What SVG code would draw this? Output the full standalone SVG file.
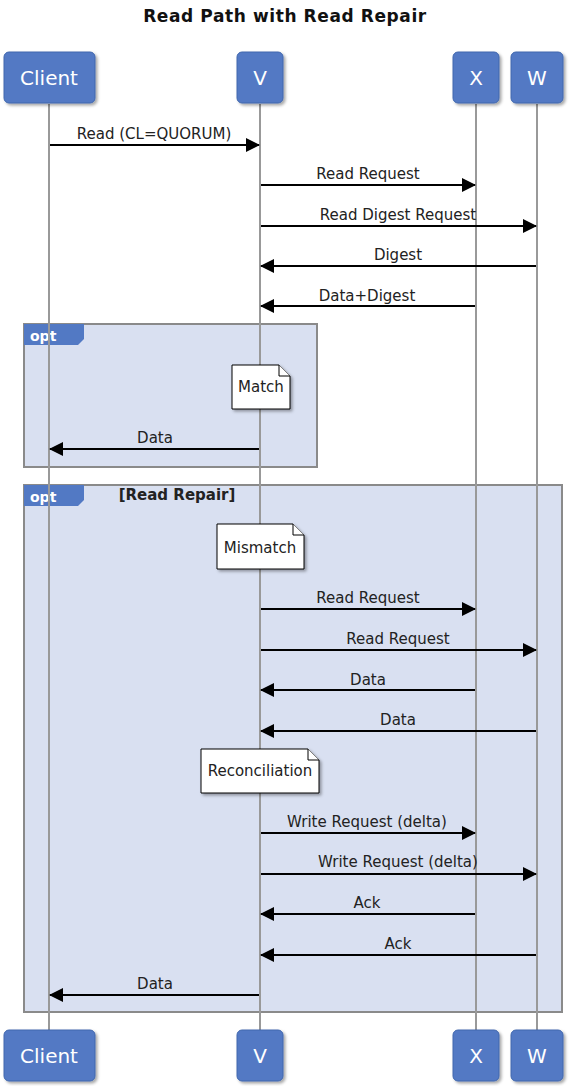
<svg xmlns="http://www.w3.org/2000/svg" width="570" height="1086" viewBox="0 0 570 1086">
<defs>
<filter id="sh" x="-20%" y="-20%" width="150%" height="150%">
<feDropShadow dx="2" dy="2" stdDeviation="1.5" flood-color="#000" flood-opacity="0.35"/>
</filter>
<marker id="ah" markerWidth="14" markerHeight="14" refX="13" refY="7" orient="auto" markerUnits="userSpaceOnUse">
<path d="M0,0 L14,7 L0,14 Z" fill="#000"/>
</marker>
</defs>
<style>
text{font-family:"DejaVu Sans",Verdana,sans-serif;}
.title{font-size:17px;font-weight:bold;fill:#111;text-anchor:middle;letter-spacing:0.6px;}
.actor rect{fill:#5279c4;stroke:#4066ad;stroke-width:1;filter:url(#sh);}
.actor text{fill:#fff;font-size:20px;text-anchor:middle;}
.life{stroke:#999;stroke-width:2;}
.frame{fill:#d9e0f1;stroke:#8a8a8a;stroke-width:2;}
.tab{fill:#5279c4;}
.tabt{fill:#fff;font-size:14px;font-weight:bold;}
.msg line{stroke:#000;stroke-width:2;marker-end:url(#ah);}
.msg text{font-size:15px;fill:#222;text-anchor:middle;}
.note path.b{fill:#fff;stroke:#000;stroke-width:1;filter:url(#sh);}
.note path.f{fill:#fff;stroke:#000;stroke-width:1;}
.note text{font-size:15px;fill:#222;text-anchor:middle;}
.cond{font-size:15px;font-weight:bold;fill:#222;text-anchor:middle;}
</style>
<text class="title" x="285" y="22">Read Path with Read Repair</text>

<g id="frames">
<g id="opt1">
<rect class="frame" x="24" y="324" width="293" height="143"/>
<path class="tab" d="M24,324 H84 V339 L78,345 H24 Z"/>
<text class="tabt" x="30" y="341">opt</text>
</g>
<g id="opt2">
<rect class="frame" x="24" y="485" width="538" height="527"/>
<path class="tab" d="M24,485 H84 V500 L78,506 H24 Z"/>
<text class="tabt" x="30" y="502">opt</text>
<text class="cond" x="177" y="500">[Read Repair]</text>
</g>
</g>

<g id="lifelines">
<line class="life" x1="49" y1="104" x2="49" y2="1030"/>
<line class="life" x1="260" y1="104" x2="260" y2="1030"/>
<line class="life" x1="476" y1="104" x2="476" y2="1030"/>
<line class="life" x1="537" y1="104" x2="537" y2="1030"/>
</g>

<g id="Client" class="actor">
<rect x="4" y="52" width="91" height="51" rx="5"/>
<text x="49" y="85">Client</text>
<rect x="4" y="1030" width="91" height="51" rx="5"/>
<text x="49" y="1063">Client</text>
</g>
<g id="V" class="actor">
<rect x="237" y="52" width="46" height="51" rx="5"/>
<text x="260" y="85">V</text>
<rect x="237" y="1030" width="46" height="51" rx="5"/>
<text x="260" y="1063">V</text>
</g>
<g id="X" class="actor">
<rect x="453" y="52" width="46" height="51" rx="5"/>
<text x="476" y="85">X</text>
<rect x="453" y="1030" width="46" height="51" rx="5"/>
<text x="476" y="1063">X</text>
</g>
<g id="W" class="actor">
<rect x="511" y="52" width="52" height="51" rx="5"/>
<text x="537" y="85">W</text>
<rect x="511" y="1030" width="52" height="51" rx="5"/>
<text x="537" y="1063">W</text>
</g>

<g id="connectors" class="msg">
<line x1="50" y1="145" x2="259" y2="145"/><text x="154" y="139">Read (CL=QUORUM)</text>
<line x1="261" y1="185" x2="475" y2="185"/><text x="368" y="179">Read Request</text>
<line x1="261" y1="226" x2="536" y2="226"/><text x="398" y="220">Read Digest Request</text>
<line x1="536" y1="266" x2="261" y2="266"/><text x="398" y="260">Digest</text>
<line x1="475" y1="306" x2="261" y2="306"/><text x="367" y="301">Data+Digest</text>
<line x1="259" y1="449" x2="50" y2="449"/><text x="155" y="443">Data</text>
<line x1="261" y1="609" x2="475" y2="609"/><text x="368" y="603">Read Request</text>
<line x1="261" y1="650" x2="536" y2="650"/><text x="398" y="644">Read Request</text>
<line x1="475" y1="690" x2="261" y2="690"/><text x="368" y="685">Data</text>
<line x1="536" y1="731" x2="261" y2="731"/><text x="398" y="725">Data</text>
<line x1="261" y1="833" x2="475" y2="833"/><text x="367" y="827">Write Request (delta)</text>
<line x1="261" y1="874" x2="536" y2="874"/><text x="398" y="867">Write Request (delta)</text>
<line x1="475" y1="914" x2="261" y2="914"/><text x="367" y="908">Ack</text>
<line x1="536" y1="955" x2="261" y2="955"/><text x="398" y="949">Ack</text>
<line x1="259" y1="995" x2="50" y2="995"/><text x="155" y="989">Data</text>
</g>

<g id="note-match" class="note">
<path class="b" d="M232,365 H279 L290,376 V409 H232 Z"/>
<path class="f" d="M279,365 V376 H290"/>
<text x="261" y="392">Match</text>
</g>
<g id="note-mismatch" class="note">
<path class="b" d="M217,524 H293 L304,535 V569 H217 Z"/>
<path class="f" d="M293,524 V535 H304"/>
<text x="260" y="553">Mismatch</text>
</g>
<g id="note-reconciliation" class="note">
<path class="b" d="M201,749 H308 L319,760 V793 H201 Z"/>
<path class="f" d="M308,749 V760 H319"/>
<text x="260" y="776">Reconciliation</text>
</g>
</svg>
